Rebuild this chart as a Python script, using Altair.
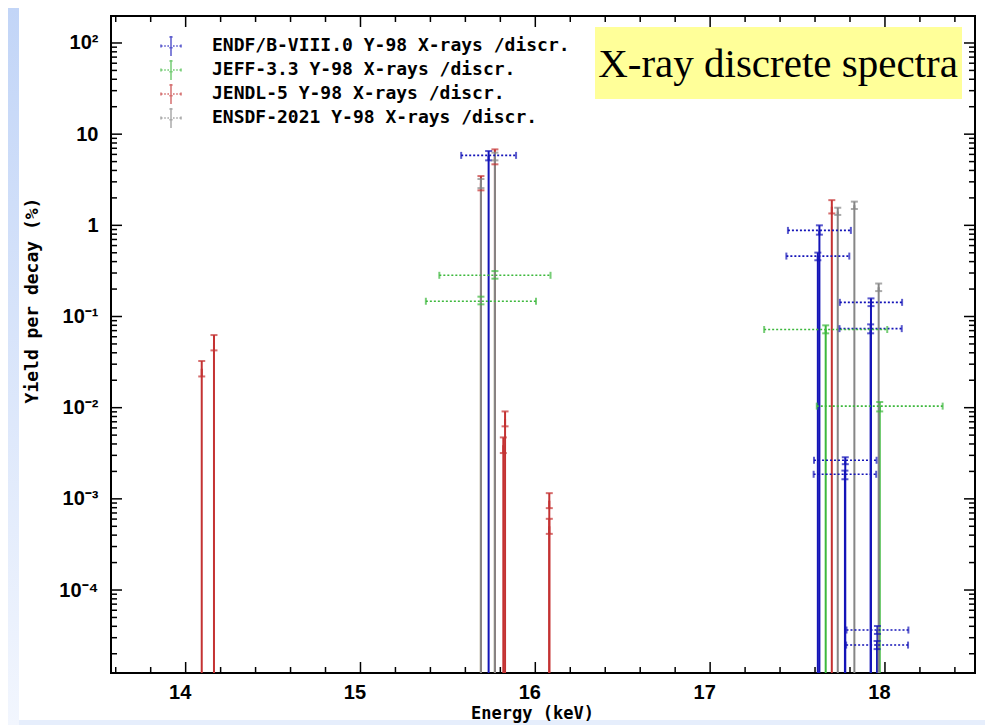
import altair as alt
import pandas as pd

# ---------------- data ----------------
SERIES = [
    "ENDF/B-VIII.0 Y-98 X-rays /discr.",
    "JEFF-3.3 Y-98 X-rays /discr.",
    "JENDL-5 Y-98 X-rays /discr.",
    "ENSDF-2021 Y-98 X-rays /discr.",
]
COLORS = ["#1414b8", "#3cb83c", "#c43232", "#868686"]

# ENDF/B-VIII.0 (energy keV, yield %, low, high, energy half-width)
ENDF_E = [15.733, 17.625, 17.616, 17.773, 17.771, 17.920, 17.918, 17.957, 17.955]
ENDF_Y = [5.85, 0.88, 0.46, 0.00265, 0.00186, 0.143, 0.0736, 3.64e-5, 2.49e-5]
ENDF_LO = [5.16, 0.79, 0.414, 0.0024, 0.00164, 0.130, 0.0654, 3.3e-5, 2.25e-5]
ENDF_HI = [6.53, 1.0, 0.502, 0.00286, 0.00204, 0.158, 0.082, 4.03e-5, 2.76e-5]
ENDF_DE = [0.157, 0.180, 0.180, 0.179, 0.179, 0.178, 0.178, 0.177, 0.177]

# JEFF-3.3
JEFF_E = [15.689, 15.769, 17.661, 17.970]
JEFF_Y = [0.147, 0.283, 0.072, 0.0104]
JEFF_LO = [0.136, 0.26, 0.0654, 0.0091]
JEFF_HI = [0.165, 0.315, 0.080, 0.01155]
JEFF_DE = [0.315, 0.318, 0.352, 0.360]

# JENDL-5
JENDL_E = [14.092, 14.162, 15.689, 15.769, 15.817, 15.827, 16.080, 16.080, 17.696]
JENDL_Y = [0.0268, 0.0516, 2.9, 5.63, 0.00388, 0.0075, 0.000955, 0.0005, 1.6]
JENDL_LO = [0.022, 0.0425, 2.42, 4.67, 0.00318, 0.00624, 0.000791, 0.000413, 1.35]
JENDL_HI = [0.0325, 0.0626, 3.47, 6.81, 0.00472, 0.0091, 0.001155, 0.000604, 1.89]

# ENSDF-2021
ENSDF_E = [15.689, 15.769, 17.730, 17.825, 17.964]
ENSDF_Y = [2.87, 5.68, 1.42, 1.66, 0.209]
ENSDF_LO = [2.56, 5.16, 1.30, 1.51, 0.19]
ENSDF_HI = [3.22, 6.27, 1.56, 1.82, 0.23]

X_DOMAIN = [13.573, 18.515]
Y_DOMAIN = [1.23e-5, 197.7]

X_MAJOR = [14, 15, 16, 17, 18]
X_MINOR = [13.6, 13.8, 14.2, 14.4, 14.6, 14.8, 15.2, 15.4, 15.6, 15.8,
           16.2, 16.4, 16.6, 16.8, 17.2, 17.4, 17.6, 17.8, 18.2, 18.4]
Y_MAJOR = [1e-4, 1e-3, 1e-2, 1e-1, 1, 10, 100]
Y_DECADES = [1e-5, 1e-4, 1e-3, 1e-2, 1e-1, 1, 10]
Y_MANT = [2, 3, 4, 5, 6, 7, 8, 9]

TITLE_TEXT = "X-ray discrete spectra"

# ---------------- tables ----------------
groups = [
    (SERIES[0], ENDF_E, ENDF_Y, ENDF_LO, ENDF_HI, ENDF_DE),
    (SERIES[1], JEFF_E, JEFF_Y, JEFF_LO, JEFF_HI, JEFF_DE),
    (SERIES[2], JENDL_E, JENDL_Y, JENDL_LO, JENDL_HI, None),
    (SERIES[3], ENSDF_E, ENSDF_Y, ENSDF_LO, ENSDF_HI, None),
]

rule_rows, cap_rows, hbar_rows, hcap_rows = [], [], [], []
for name, es, ys, los, his, des in groups:
    for i, e in enumerate(es):
        rule_rows.append({"series": name, "E": e, "Y": ys[i], "Y2": Y_DOMAIN[0]})
        rule_rows.append({"series": name, "E": e, "Y": los[i], "Y2": his[i]})
        cap_rows.append({"series": name, "E": e, "Y": los[i]})
        cap_rows.append({"series": name, "E": e, "Y": his[i]})
        if des is not None:
            hbar_rows.append({"series": name, "E": e - des[i], "E2": e + des[i], "Y": ys[i]})
            hcap_rows.append({"series": name, "E": e - des[i], "Y": ys[i]})
            hcap_rows.append({"series": name, "E": e + des[i], "Y": ys[i]})

rules_df = pd.DataFrame(rule_rows)
caps_df = pd.DataFrame(cap_rows)
hbar_df = pd.DataFrame(hbar_rows)
hcap_df = pd.DataFrame(hcap_rows)

xmaj_df = pd.DataFrame({"E": X_MAJOR})
xmin_df = pd.DataFrame({"E": X_MINOR})
ymaj_df = pd.DataFrame({"Y": Y_MAJOR})
ymin_df = pd.DataFrame({"Y": [m * d for d in Y_DECADES for m in Y_MANT]})
one_df = pd.DataFrame({"k": [0]})

W, H = 864, 657
PAD = {"left": 103, "top": 8, "right": 10, "bottom": 52}

# ---------------- scales / axes ----------------
MONO = "DejaVu Sans Mono"
SANS = "Liberation Sans"

xscale = alt.Scale(domain=X_DOMAIN, nice=False, zero=False)
yscale = alt.Scale(type="log", domain=Y_DOMAIN, nice=False)

label_expr = (
    "datum.value > 50 ? '10²' : datum.value > 5 ? '10' : datum.value > 0.5 ? '1' : "
    "datum.value > 0.05 ? '10⁻¹' : datum.value > 0.005 ? '10⁻²' : "
    "datum.value > 0.0005 ? '10⁻³' : '10⁻⁴'"
)

xaxis = alt.Axis(
    values=X_MAJOR, ticks=False, domain=False, grid=False, zindex=2,
    labelFont=SANS, labelFontWeight="bold", labelFontSize=20, labelColor="black",
    labelPadding=9, labelOffset=-6,
    title="Energy (keV)", titleFont=MONO, titleFontWeight="bold", titleFontSize=17,
    titleColor="black", titleX=421, titleY=40, titleBaseline="middle",
)
yaxis = alt.Axis(
    values=Y_MAJOR, labelExpr=label_expr, ticks=False, domain=False, grid=False, zindex=2,
    labelFont=SANS, labelFontWeight="bold", labelFontSize=20, labelColor="black",
    labelPadding=13,
    title="Yield per decay (%)", titleFont=MONO, titleFontWeight="bold", titleFontSize=18,
    titleColor="black", titleX=-79, titleY=284, titleBaseline="middle", titleAngle=270,
)

ICON = ("M-1,0H-0.84M-0.68,0H-0.52M-0.36,0H-0.2M-0.04,0H0.04M0.2,0H0.36M0.52,0H0.68"
        "M0.84,0H1M-1,-0.14V0.14M1,-0.14V0.14M0,-1V1M-0.16,-0.9H0.16M-0.16,0.18H0.16")

legend = alt.Legend(
    title=None, orient="none", legendX=49, legendY=19, padding=0,
    symbolType=ICON, symbolSize=400, symbolStrokeWidth=1.5,
    labelFont=MONO, labelFontWeight="bold", labelFontSize=18, labelColor="black",
    labelOffset=30, labelLimit=0, rowPadding=-8,
)
color = alt.Color("series:N", scale=alt.Scale(domain=SERIES, range=COLORS), legend=legend)


def X(field="E"):
    return alt.X(f"{field}:Q", scale=xscale, axis=xaxis)


def Y(field="Y"):
    return alt.Y(f"{field}:Q", scale=yscale, axis=yaxis)


# ---------------- page decoration (slide background strips) ----------------
left_strip = alt.Chart(one_df).mark_rect(
    color=alt.LinearGradient(
        gradient="linear", x1=0, y1=0, x2=0, y2=1,
        stops=[alt.GradientStop(color="#c2d5f7", offset=0),
               alt.GradientStop(color="#f2f6fe", offset=1)],
    )
).encode(x=alt.value(-PAD["left"]), x2=alt.value(-92),
         y=alt.value(-PAD["top"]), y2=alt.value(H + PAD["bottom"]))
bottom_strip = alt.Chart(one_df).mark_rect(color="#e6eefc").encode(
    x=alt.value(-92), x2=alt.value(W + PAD["right"]),
    y=alt.value(H + 47), y2=alt.value(H + PAD["bottom"]))

# ---------------- layers ----------------
lines = alt.Chart(rules_df).mark_rule(strokeWidth=2).encode(
    x=X(), y=Y(), y2="Y2:Q", color=color
)
caps = alt.Chart(caps_df).mark_tick(orient="horizontal", size=7, thickness=2).encode(
    x=X(), y=Y(), color=color
)
hbars = alt.Chart(hbar_df).mark_rule(strokeWidth=1.6, strokeDash=[2, 2]).encode(
    x=X(), x2="E2:Q", y=Y(), color=color
)
hcaps = alt.Chart(hcap_df).mark_tick(orient="vertical", size=7, thickness=2).encode(
    x=X(), y=Y(), color=color
)

tick_style = dict(color="black", strokeWidth=1.5)
xt_bot_maj = alt.Chart(xmaj_df).mark_rule(**tick_style).encode(
    x=X(), y=alt.value(H), y2=alt.value(H - 11))
xt_bot_min = alt.Chart(xmin_df).mark_rule(**tick_style).encode(
    x=X(), y=alt.value(H), y2=alt.value(H - 6))
xt_top_maj = alt.Chart(xmaj_df).mark_rule(**tick_style).encode(
    x=X(), y=alt.value(0), y2=alt.value(11))
xt_top_min = alt.Chart(xmin_df).mark_rule(**tick_style).encode(
    x=X(), y=alt.value(0), y2=alt.value(6))
yt_l_maj = alt.Chart(ymaj_df).mark_rule(**tick_style).encode(
    y=Y(), x=alt.value(0), x2=alt.value(11))
yt_l_min = alt.Chart(ymin_df).mark_rule(**tick_style).encode(
    y=Y(), x=alt.value(0), x2=alt.value(6))
yt_r_maj = alt.Chart(ymaj_df).mark_rule(**tick_style).encode(
    y=Y(), x=alt.value(W), x2=alt.value(W - 11))
yt_r_min = alt.Chart(ymin_df).mark_rule(**tick_style).encode(
    y=Y(), x=alt.value(W), x2=alt.value(W - 6))

box = alt.Chart(one_df).mark_rect(color="#ffff99").encode(
    x=alt.value(484), x2=alt.value(851), y=alt.value(11), y2=alt.value(83)
)
box_text = alt.Chart(one_df).mark_text(
    font="Liberation Serif", fontSize=41, color="black", align="center", baseline="alphabetic"
).encode(x=alt.value(667), y=alt.value(61), text=alt.value(TITLE_TEXT))

chart = alt.layer(
    left_strip, bottom_strip,
    box, box_text,
    lines, caps, hbars, hcaps,
    xt_bot_maj, xt_bot_min, xt_top_maj, xt_top_min,
    yt_l_maj, yt_l_min, yt_r_maj, yt_r_min,
).properties(
    width=W, height=H,
    autosize=alt.AutoSizeParams(type="none"),
    padding=PAD,
    background="white",
).configure_view(stroke="black", strokeWidth=2)

chart.save("out.html", embed_options={"renderer": "svg", "actions": False})
